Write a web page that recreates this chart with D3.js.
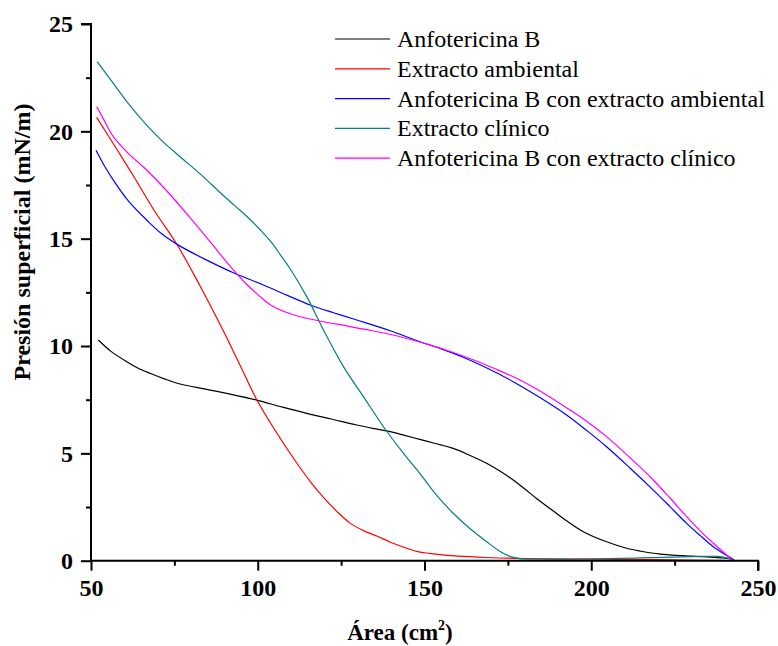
<!DOCTYPE html>
<html>
<head>
<meta charset="utf-8">
<script src="https://cdn.jsdelivr.net/npm/d3@7"></script>
<style>
  html, body { margin: 0; padding: 0; background: #fff; }
  svg { display: block; }
</style>
</head>
<body>
<svg id="chart" width="778" height="646"></svg>
<script>
// ---- data (area cm², surface pressure mN/m) ----
const seriesNames = [
  "Anfotericina B",
  "Extracto ambiental",
  "Anfotericina B con extracto ambiental",
  "Extracto clínico",
  "Anfotericina B con extracto clínico"
];
const seriesColors = ["#000000", "#ff0000", "#0000ff", "#008080", "#ff00ff"];

const anfoB_x = [52.2, 56, 60.7, 64, 67.7, 72, 76.7, 84.7, 92, 99.7, 107, 114.7, 122, 129.7, 135, 139.7, 144, 148.6, 153, 158.6, 163, 168.6, 172.6, 176.6, 180, 183.6, 187.6, 191.6, 197.6, 204.6, 210.6, 215, 220.6, 227, 233.5, 238, 242.1, 243];
const anfoB_y = [10.28, 9.75, 9.27, 8.98, 8.73, 8.47, 8.23, 7.98, 7.75, 7.48, 7.17, 6.86, 6.6, 6.32, 6.15, 6.01, 5.84, 5.65, 5.47, 5.23, 4.95, 4.54, 4.18, 3.76, 3.35, 2.9, 2.43, 1.97, 1.35, 0.88, 0.58, 0.44, 0.31, 0.24, 0.19, 0.14, 0.08, 0.0];

const ambiental_x = [51.7, 57, 63, 69, 75.7, 82.7, 89.7, 94.7, 99.7, 105.7, 111.7, 115.7, 119.7, 123.7, 127.7, 131.7, 135.7, 140, 144.7, 148, 151.6, 156, 160, 168.6, 180, 200, 220, 243];
const ambiental_y = [20.65, 19.35, 17.85, 16.3, 14.75, 12.8, 10.7, 9.1, 7.5, 5.95, 4.55, 3.7, 2.95, 2.3, 1.75, 1.4, 1.15, 0.85, 0.58, 0.42, 0.34, 0.26, 0.21, 0.15, 0.1, 0.07, 0.05, 0.0];

const anfoAmb_x = [51.5, 54, 56.7, 61, 66.7, 71, 76.2, 84.7, 92.7, 101.7, 108.7, 115.7, 122.7, 129.7, 139.7, 148.6, 155, 161.6, 169, 176.6, 184.6, 192.6, 198.6, 204.6, 211.6, 218.6, 223.6, 228.6, 232.6, 236.6, 240, 242.1, 243];
const anfoAmb_y = [19.12, 18.4, 17.73, 16.8, 15.87, 15.25, 14.7, 14.0, 13.41, 12.84, 12.37, 11.91, 11.55, 11.21, 10.71, 10.2, 9.87, 9.48, 8.95, 8.34, 7.6, 6.79, 6.07, 5.31, 4.32, 3.29, 2.52, 1.74, 1.18, 0.65, 0.3, 0.11, 0.0];

const clinico_x = [51.9, 56.7, 61.7, 66.7, 71.7, 76.7, 83.2, 88.7, 93, 97, 100.5, 104, 107, 109.7, 114.7, 119.7, 125.7, 131.7, 137.7, 143.7, 148.6, 153.6, 158.6, 163.6, 168.6, 172, 175.6, 178.6, 185, 195, 205, 215, 225, 233.6, 238, 241, 243];
const clinico_y = [23.24, 22.23, 21.2, 20.29, 19.5, 18.82, 17.95, 17.15, 16.55, 16.0, 15.45, 14.85, 14.2, 13.6, 12.3, 10.75, 9.04, 7.64, 6.24, 5.0, 4.07, 3.05, 2.21, 1.5, 0.89, 0.5, 0.2, 0.1, 0.08, 0.08, 0.1, 0.13, 0.17, 0.2, 0.2, 0.12, 0.0];

const anfoClin_x = [51.7, 54, 56.7, 61, 66.7, 72, 79.7, 86, 91.7, 96.5, 100.7, 104, 107.7, 113, 119.7, 127, 134.7, 143, 151.6, 157, 163.6, 171, 178.6, 186, 193.6, 199, 204.6, 211.6, 218.6, 223.6, 228.6, 232.6, 236.6, 240, 242.6];
const anfoClin_y = [21.15, 20.5, 19.75, 19.0, 18.2, 17.35, 15.98, 14.8, 13.72, 12.9, 12.3, 11.9, 11.62, 11.35, 11.13, 10.93, 10.7, 10.42, 10.05, 9.78, 9.42, 8.95, 8.42, 7.78, 7.02, 6.45, 5.78, 4.8, 3.76, 2.92, 2.05, 1.4, 0.81, 0.35, 0.0];

const xTicks = [50, 100, 150, 200, 250];
const xMinor = [75, 125, 175, 225];
const yTicks = [0, 5, 10, 15, 20, 25];
const yMinor = [2.5, 7.5, 12.5, 17.5, 22.5];

const seriesX = [anfoB_x, ambiental_x, anfoAmb_x, clinico_x, anfoClin_x];
const seriesY = [anfoB_y, ambiental_y, anfoAmb_y, clinico_y, anfoClin_y];

// ---- layout ----
const svg = d3.select("#chart");
const mLeft = 91, mRight = 758, mTop = 24, mBottom = 560.7;
const font = "'Liberation Serif', 'Times New Roman', serif";

const x = d3.scaleLinear().domain([50, 250]).range([mLeft, mRight]);
const y = d3.scaleLinear().domain([0, 25]).range([mBottom, mTop]);

// curves
const line = d3.line().x(d => x(d[0])).y(d => y(d[1])).curve(d3.curveCatmullRom.alpha(0.5));
const g = svg.append("g");
seriesX.forEach((xs, i) => {
  const pts = xs.map((v, j) => [v, seriesY[i][j]]);
  g.append("path")
    .datum(pts)
    .attr("d", line)
    .attr("fill", "none")
    .attr("stroke", seriesColors[i])
    .attr("stroke-width", 1.2);
});

// axes
const xAxis = svg.append("g").attr("transform", `translate(0,${mBottom})`)
  .call(d3.axisBottom(x).tickValues(xTicks).tickSize(10).tickPadding(8).tickFormat(d3.format("d")));
const xAxisMinor = svg.append("g").attr("transform", `translate(0,${mBottom})`)
  .call(d3.axisBottom(x).tickValues(xMinor).tickSize(5).tickFormat(""));
const yAxis = svg.append("g").attr("transform", `translate(${mLeft},0)`)
  .call(d3.axisLeft(y).tickValues(yTicks).tickSize(10).tickPadding(8).tickFormat(d3.format("d")));
const yAxisMinor = svg.append("g").attr("transform", `translate(${mLeft},0)`)
  .call(d3.axisLeft(y).tickValues(yMinor).tickSize(5).tickFormat(""));

[xAxis, xAxisMinor, yAxis, yAxisMinor].forEach(a => {
  a.selectAll(".domain").attr("stroke", "#000").attr("stroke-width", 2);
  a.selectAll(".tick line").attr("stroke", "#000").attr("stroke-width", 2);
  a.selectAll(".tick text")
    .attr("font-family", font)
    .attr("font-weight", "bold")
    .attr("font-size", 24)
    .attr("fill", "#000");
});
[xAxisMinor, yAxisMinor].forEach(a => a.select(".domain").remove());
xAxis.select(".domain").attr("d", `M${mLeft},0H${mRight}V10`);
yAxis.select(".domain").attr("d", `M-10,${mTop}H0V${mBottom}`);

// axis titles
const xt = svg.append("text")
  .attr("x", 400).attr("y", 640)
  .attr("text-anchor", "middle")
  .attr("font-family", font).attr("font-weight", "bold").attr("font-size", 23);
xt.append("tspan").text("Área (cm");
xt.append("tspan").text("2").attr("font-size", 14).attr("dy", -10);
xt.append("tspan").text(")").attr("dy", 10);

svg.append("text")
  .attr("transform", `translate(30,242) rotate(-90)`)
  .attr("text-anchor", "middle")
  .attr("font-family", font).attr("font-weight", "bold").attr("font-size", 24)
  .text("Presión superficial (mN/m)");

// legend
const lg = svg.append("g");
seriesNames.forEach((name, i) => {
  const yy = 39 + i * 29.8;
  lg.append("line")
    .attr("x1", 335).attr("x2", 390).attr("y1", yy).attr("y2", yy)
    .attr("stroke", seriesColors[i]).attr("stroke-width", 1.2);
  lg.append("text")
    .attr("x", 397).attr("y", yy + 8)
    .attr("font-family", font).attr("font-size", 24)
    .text(name);
});
</script>
</body>
</html>
